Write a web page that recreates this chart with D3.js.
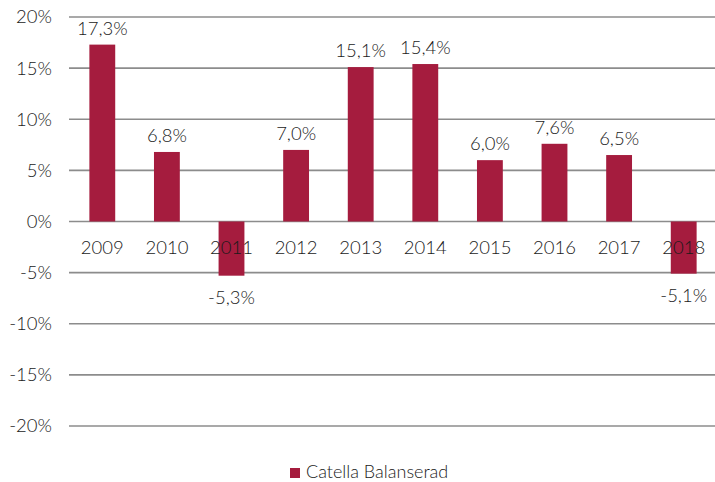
<!DOCTYPE html>
<html><head><meta charset="utf-8">
<script src="https://cdn.jsdelivr.net/npm/d3@7"></script>
<style>body{margin:0;background:#fff}svg{display:block}text{font-family:Lato,"Open Sans",sans-serif;fill:#1a1a1a}</style>
</head><body><svg id="c" width="715" height="482"></svg>
<script>
const categories = ["2009","2010","2011","2012","2013","2014","2015","2016","2017","2018"];
const values = [17.3, 6.8, -5.3, 7.0, 15.1, 15.4, 6.0, 7.6, 6.5, -5.1];
const yTicks = [20, 15, 10, 5, 0, -5, -10, -15, -20];
const seriesName = "Catella Balanserad";
const fmt = v => v.toFixed(1).replace(".", ",") + "%";

const svg = d3.select("#c");
const x = d3.scaleBand().domain(categories).range([70, 716]).paddingInner(0.6).paddingOuter(0.3);
const y = d3.scaleLinear().domain([-20, 20]).range([426, 17]);
const color = "#A51C3E";

svg.append("g").selectAll("line").data(yTicks).join("line")
  .attr("x1", 69).attr("x2", 715).attr("y1", d => y(d)).attr("y2", d => y(d))
  .attr("stroke", "#8c8c8c").attr("stroke-width", 1.6);

svg.append("g").selectAll("text").data(yTicks).join("text")
  .attr("x", 52).attr("y", d => y(d)).attr("dy", "0.35em").attr("text-anchor", "end")
  .attr("font-size", 18.5).attr("font-weight", 300).text(d => d + "%");

svg.append("g").selectAll("rect").data(values).join("rect")
  .attr("x", (d, i) => x(categories[i])).attr("width", x.bandwidth())
  .attr("y", d => y(Math.max(0, d))).attr("height", d => Math.abs(y(d) - y(0)))
  .attr("fill", color);

svg.append("g").selectAll("text").data(categories).join("text")
  .attr("x", d => x(d) + x.bandwidth() / 2).attr("y", y(0) + 32).attr("text-anchor", "middle")
  .attr("font-size", 18.5).attr("font-weight", 300).text(d => d);

svg.append("g").selectAll("text").data(values).join("text")
  .attr("x", (d, i) => x(categories[i]) + x.bandwidth() / 2)
  .attr("y", d => d >= 0 ? y(d) - 10 : y(d) + 28)
  .attr("text-anchor", "middle").attr("font-size", 18.5).attr("font-weight", 300).text(fmt);

const lg = svg.append("g");
lg.append("rect").attr("x", 290).attr("y", 468).attr("width", 10).attr("height", 10).attr("fill", color);
lg.append("text").attr("x", 306).attr("y", 478).attr("font-size", 18).attr("font-weight", 300).text(seriesName);
</script></body></html>
